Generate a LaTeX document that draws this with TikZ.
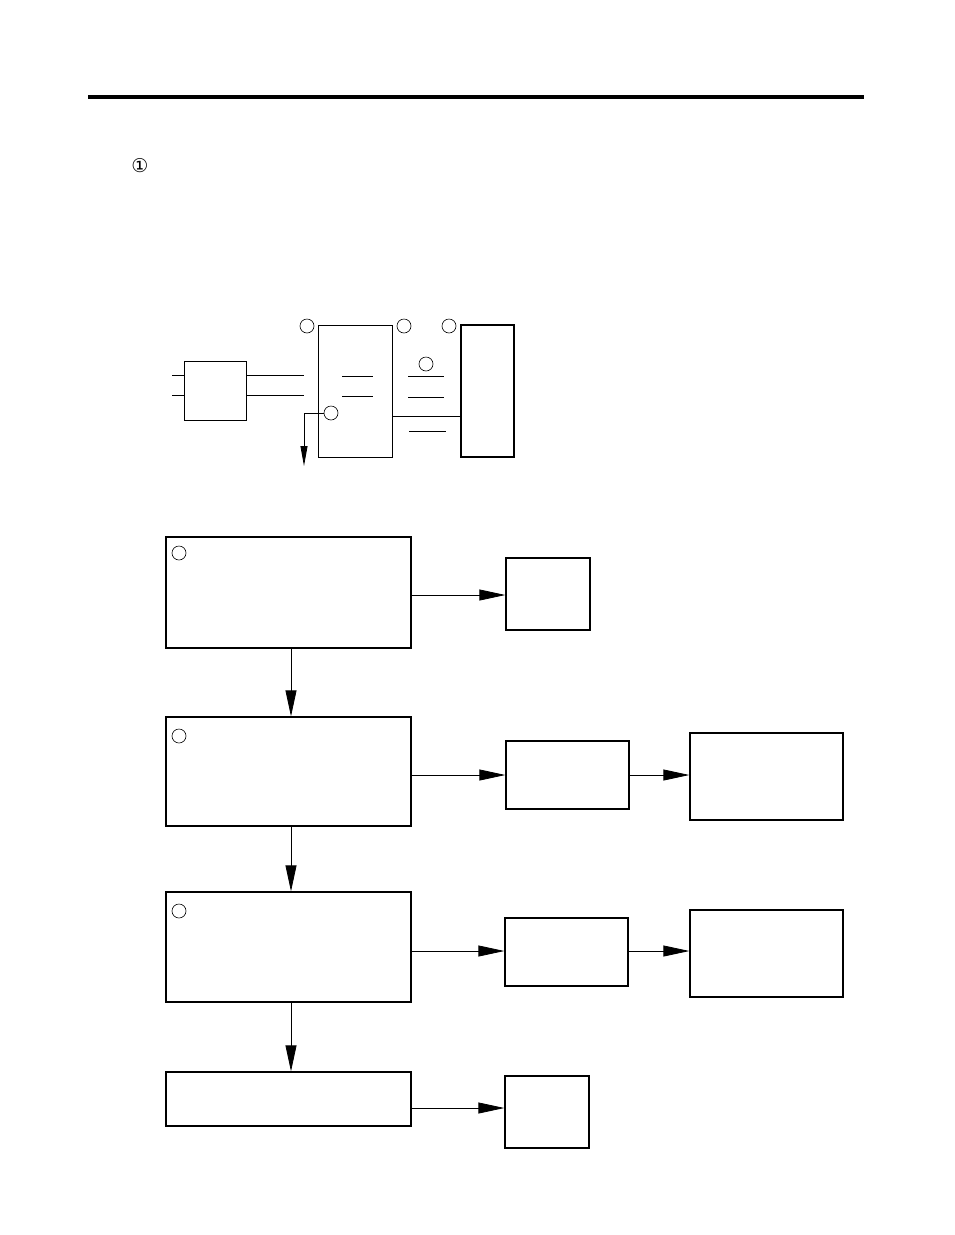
\documentclass[tikz,border=0pt]{standalone}
\usepackage{fontspec}
\setmainfont{DejaVu Sans}
\usetikzlibrary{arrows.meta, positioning, calc}
\tikzset{
  box/.style={draw, line width=1.3pt, inner sep=0pt},
  thinbox/.style={draw, line width=1pt, inner sep=0pt},
  num/.style={draw, circle, line width=0.6pt, minimum size=14pt, inner sep=0pt},
  flow/.style={-{Triangle[length=26pt,width=11pt]}, line width=0.8pt},
  wire/.style={line width=0.9pt}
}
\begin{document}
\begin{tikzpicture}[x=1pt, y=-1pt]
  \useasboundingbox (0,0) rectangle (954,1235);
  % Header rule
  \draw[line width=3.5pt] (88,97) -- (864,97);
  \node[font=\fontsize{19}{19}\selectfont] (sym) at (140,166) {①};

  % Schematic
  \node[thinbox, minimum width=62pt, minimum height=59pt] (amp) at (215,390.5) {};
  \node[thinbox, minimum width=74pt, minimum height=132pt] (unit) at (355,391) {};
  \node[box, minimum width=53pt, minimum height=132pt] (load) at (487.5,391) {};
  \node[num] (n1) at (307,326) {};
  \node[num] (n2) at (404,326) {};
  \node[num] (n3) at (449,326) {};
  \node[num] (n4) at (426,364) {};
  \node[num] (n5) at (331,413) {};
  \foreach \yy in {375,395} {
    \draw[wire] (172,\yy) -- (amp.west |- 0,\yy);
    \draw[wire] (amp.east |- 0,\yy) -- (304,\yy);
  }
  \draw[wire] (342,376) -- (373,376);
  \draw[wire] (342,396) -- (373,396);
  \draw[wire] (408,376) -- (444,376);
  \draw[wire] (408,397) -- (444,397);
  \draw[wire] (409,431) -- (446,431);
  \draw[wire] (unit.east |- 0,416) -- (load.west |- 0,416);
  \coordinate (out) at (304,466);
  \draw[wire, -{Triangle[length=20pt,width=7pt]}] (n5.west) -| (out);

  % Flow chart
  \node[box, minimum width=245pt, minimum height=111pt] (s1) at (288.5,592.5) {};
  \node[box, minimum width=245pt, minimum height=109pt] (s2) at (288.5,771.5) {};
  \node[box, minimum width=245pt, minimum height=110pt] (s3) at (288.5,947) {};
  \node[box, minimum width=245pt, minimum height=54pt] (s4) at (288.5,1099) {};
  \node[num] (c1) at (179,553) {};
  \node[num] (c2) at (179,736) {};
  \node[num] (c3) at (179,911) {};

  \node[box, minimum width=84pt, minimum height=72pt] (r1) at (548,594) {};
  \node[box, minimum width=123pt, minimum height=68pt] (r2) at (567.5,775) {};
  \node[box, minimum width=153pt, minimum height=87pt] (t2) at (766.5,776.5) {};
  \node[box, minimum width=123pt, minimum height=68pt] (r3) at (566.5,952) {};
  \node[box, minimum width=153pt, minimum height=87pt] (t3) at (766.5,953.5) {};
  \node[box, minimum width=84pt, minimum height=72pt] (r4) at (547,1112) {};

  \draw[flow] (s1.east |- 0,595) -- (r1.west |- 0,595);
  \draw[flow] (s2.east |- 0,775) -- (r2.west);
  \draw[flow] (r2.east) -- (t2.west |- r2.east);
  \draw[flow] (s3.east |- 0,951) -- (r3.west |- 0,951);
  \draw[flow] (r3.east |- 0,951) -- (t3.west |- 0,951);
  \draw[flow] (s4.east |- 0,1108) -- (r4.west |- 0,1108);
  \draw[flow] (s1.south -| 291,0) -- (s2.north -| 291,0);
  \draw[flow] (s2.south -| 291,0) -- (s3.north -| 291,0);
  \draw[flow] (s3.south -| 291,0) -- (s4.north -| 291,0);
\end{tikzpicture}
\end{document}
